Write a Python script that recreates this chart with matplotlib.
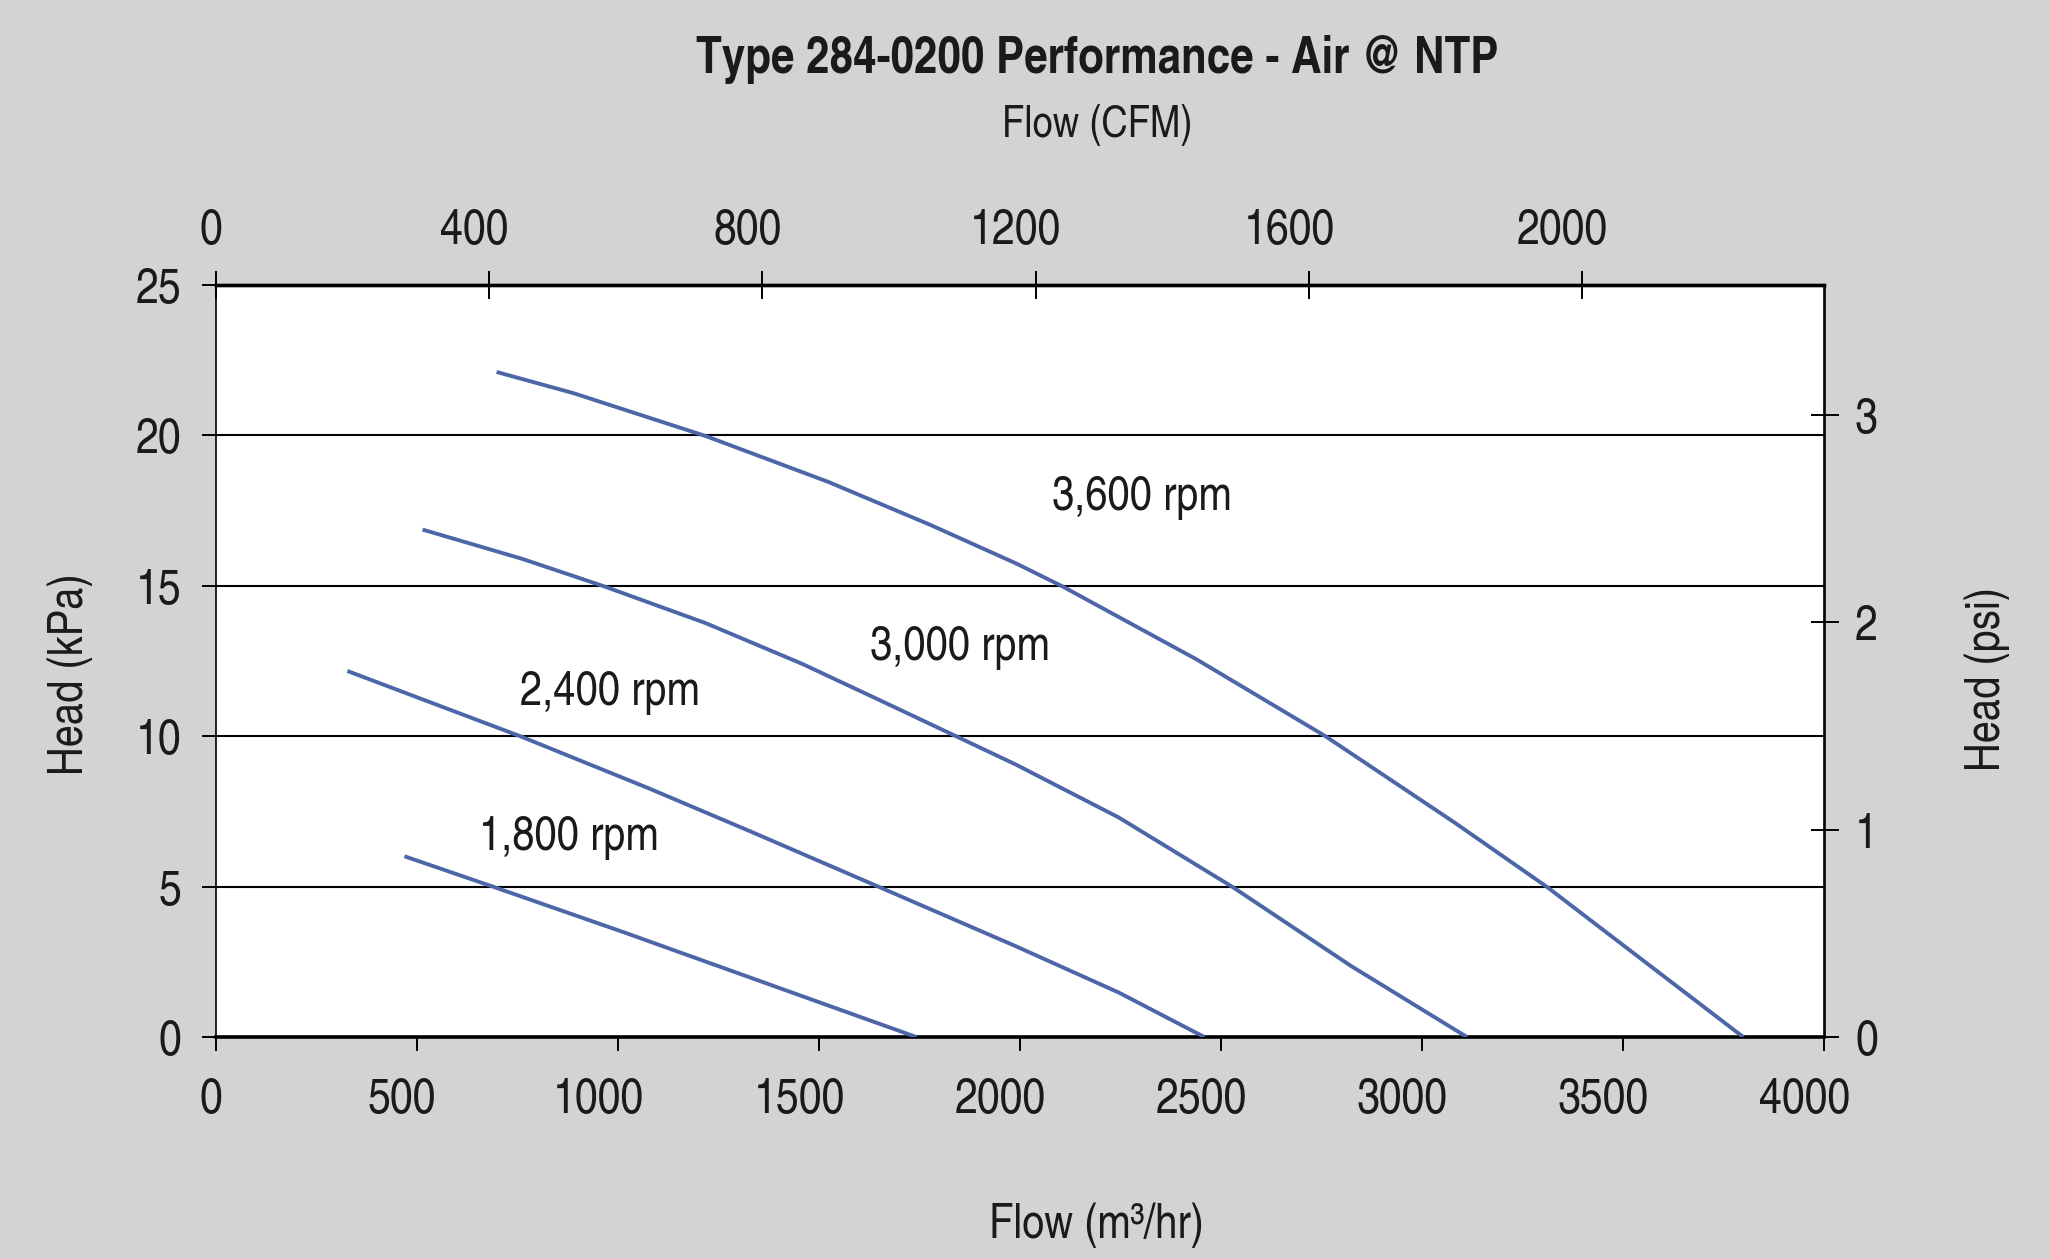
import matplotlib
matplotlib.use('Agg')
import matplotlib.pyplot as plt
from matplotlib.transforms import ScaledTranslation

# pump curves: flow in m3/hr, head in kPa
flow_3600 = [698, 888, 1218, 1522, 1776, 1989, 2104, 2438, 2758, 3079, 3310, 3528, 3798]
head_3600 = [22.11, 21.41, 19.98, 18.46, 17.03, 15.75, 14.99, 12.56, 10.01, 7.14, 4.99, 2.76, 0.0]

flow_3000 = [514, 761, 964, 1218, 1459, 1649, 1839, 1989, 2245, 2528, 2823, 3111]
head_3000 = [16.87, 15.90, 14.99, 13.76, 12.40, 11.21, 10.01, 9.06, 7.30, 4.99, 2.36, 0.0]

flow_2400 = [327, 507, 755, 1078, 1332, 1649, 1989, 2245, 2458]
head_2400 = [12.17, 11.26, 10.01, 8.26, 6.82, 4.99, 3.02, 1.48, 0.0]

flow_1800 = [469, 691, 1015, 1395, 1742]
head_1800 = [6.01, 4.99, 3.48, 1.66, 0.0]

curve_labels = ['3,600 rpm', '3,000 rpm', '2,400 rpm', '1,800 rpm']
label_flow = [2302, 1851, 980, 878]
label_head = [17.51, 12.53, 11.05, 6.22]

x_ticks = [0, 500, 1000, 1500, 2000, 2500, 3000, 3500, 4000]
y_ticks = [0, 5, 10, 15, 20, 25]
cfm_ticks = [0, 400, 800, 1200, 1600, 2000]
psi_ticks = [0, 1, 2, 3]

M3H_PER_CFM = 1.699
KPA_PER_PSI = 6.895

plt.rcParams['font.family'] = ['TeX Gyre Heros Cn', 'DejaVu Sans']

bg = '#d3d3d5'
blue = '#4c66a8'
ink = '#1a1a1a'

fig = plt.figure(figsize=(20.5, 12.59), dpi=100, facecolor=bg)
ax = fig.add_axes([0.1053, 0.1763, 0.7847, 0.5973])
ax.set_facecolor('white')

for fl, hd in [(flow_3600, head_3600), (flow_3000, head_3000),
               (flow_2400, head_2400), (flow_1800, head_1800)]:
    ax.plot(fl, hd, color=blue, lw=2.8, solid_capstyle='butt',
            solid_joinstyle='round', zorder=3)

for t, fx, hy in zip(curve_labels, label_flow, label_head):
    ax.text(fx, hy, t, ha='center', va='baseline', fontsize=35, color=ink)

ax.set_xlim(0, 4000)
ax.set_ylim(0, 25)
ax.set_xticks(x_ticks)
ax.set_yticks(y_ticks)
ax.yaxis.grid(True, color='black', lw=1.5)
ax.set_axisbelow(True)

ax.tick_params(axis='both', direction='out', length=10, width=1.4,
               labelsize=36, color='black', labelcolor=ink)
ax.tick_params(axis='x', labelbottom=False)
ax.tick_params(axis='y', pad=15)
ax.spines['left'].set_linewidth(1.2)
ax.spines['right'].set_linewidth(1.2)
ax.spines['top'].set_linewidth(2.4)
ax.spines['bottom'].set_linewidth(2.6)

top = ax.secondary_xaxis('top', functions=(lambda q: q / M3H_PER_CFM,
                                            lambda q: q * M3H_PER_CFM))
top.set_xticks(cfm_ticks)
top.tick_params(direction='inout', length=20, width=1.4, labeltop=False)
top.spines['top'].set_linewidth(2.4)

right = ax.secondary_yaxis('right', functions=(lambda q: q / KPA_PER_PSI,
                                               lambda q: q * KPA_PER_PSI))
right.set_yticks(psi_ticks)
right.tick_params(direction='inout', length=20, width=1.4, labelsize=36,
                  pad=12, labelcolor=ink)
right.spines['right'].set_linewidth(1.2)

# x tick labels sit a little left of their ticks in the original
xt = ax.get_xaxis_transform()
for v in x_ticks:
    s = str(v)
    off = ScaledTranslation(-3.6 * len(s) / 72, -29 / 72, fig.dpi_scale_trans)
    ax.text(v, 0, s, ha='center', va='top', fontsize=36, color=ink,
            transform=xt + off)
for v in cfm_ticks:
    s = str(v)
    off = ScaledTranslation(-3.6 * len(s) / 72, 22 / 72, fig.dpi_scale_trans)
    ax.text(v * M3H_PER_CFM, 1, s, ha='center', va='bottom', fontsize=36,
            color=ink, transform=xt + off)

fig.text(0.535, 0.942, 'Type 284-0200 Performance - Air @ NTP', ha='center',
         va='baseline', fontsize=37, fontweight='bold', color=ink)
fig.text(0.535, 0.8914, 'Flow (CFM)', ha='center', va='baseline', fontsize=32,
         color=ink)
fig.text(0.535, 0.0167, 'Flow (m³/hr)', ha='center', va='baseline', fontsize=35,
         color=ink)
fig.text(0.0342, 0.4647, 'Head (kPa)', ha='center', va='center', fontsize=35,
         rotation=90, color=ink)
fig.text(0.9695, 0.461, 'Head (psi)', ha='center', va='center', fontsize=35,
         rotation=90, color=ink)

fig.savefig('out.png', dpi=100, facecolor=bg)
